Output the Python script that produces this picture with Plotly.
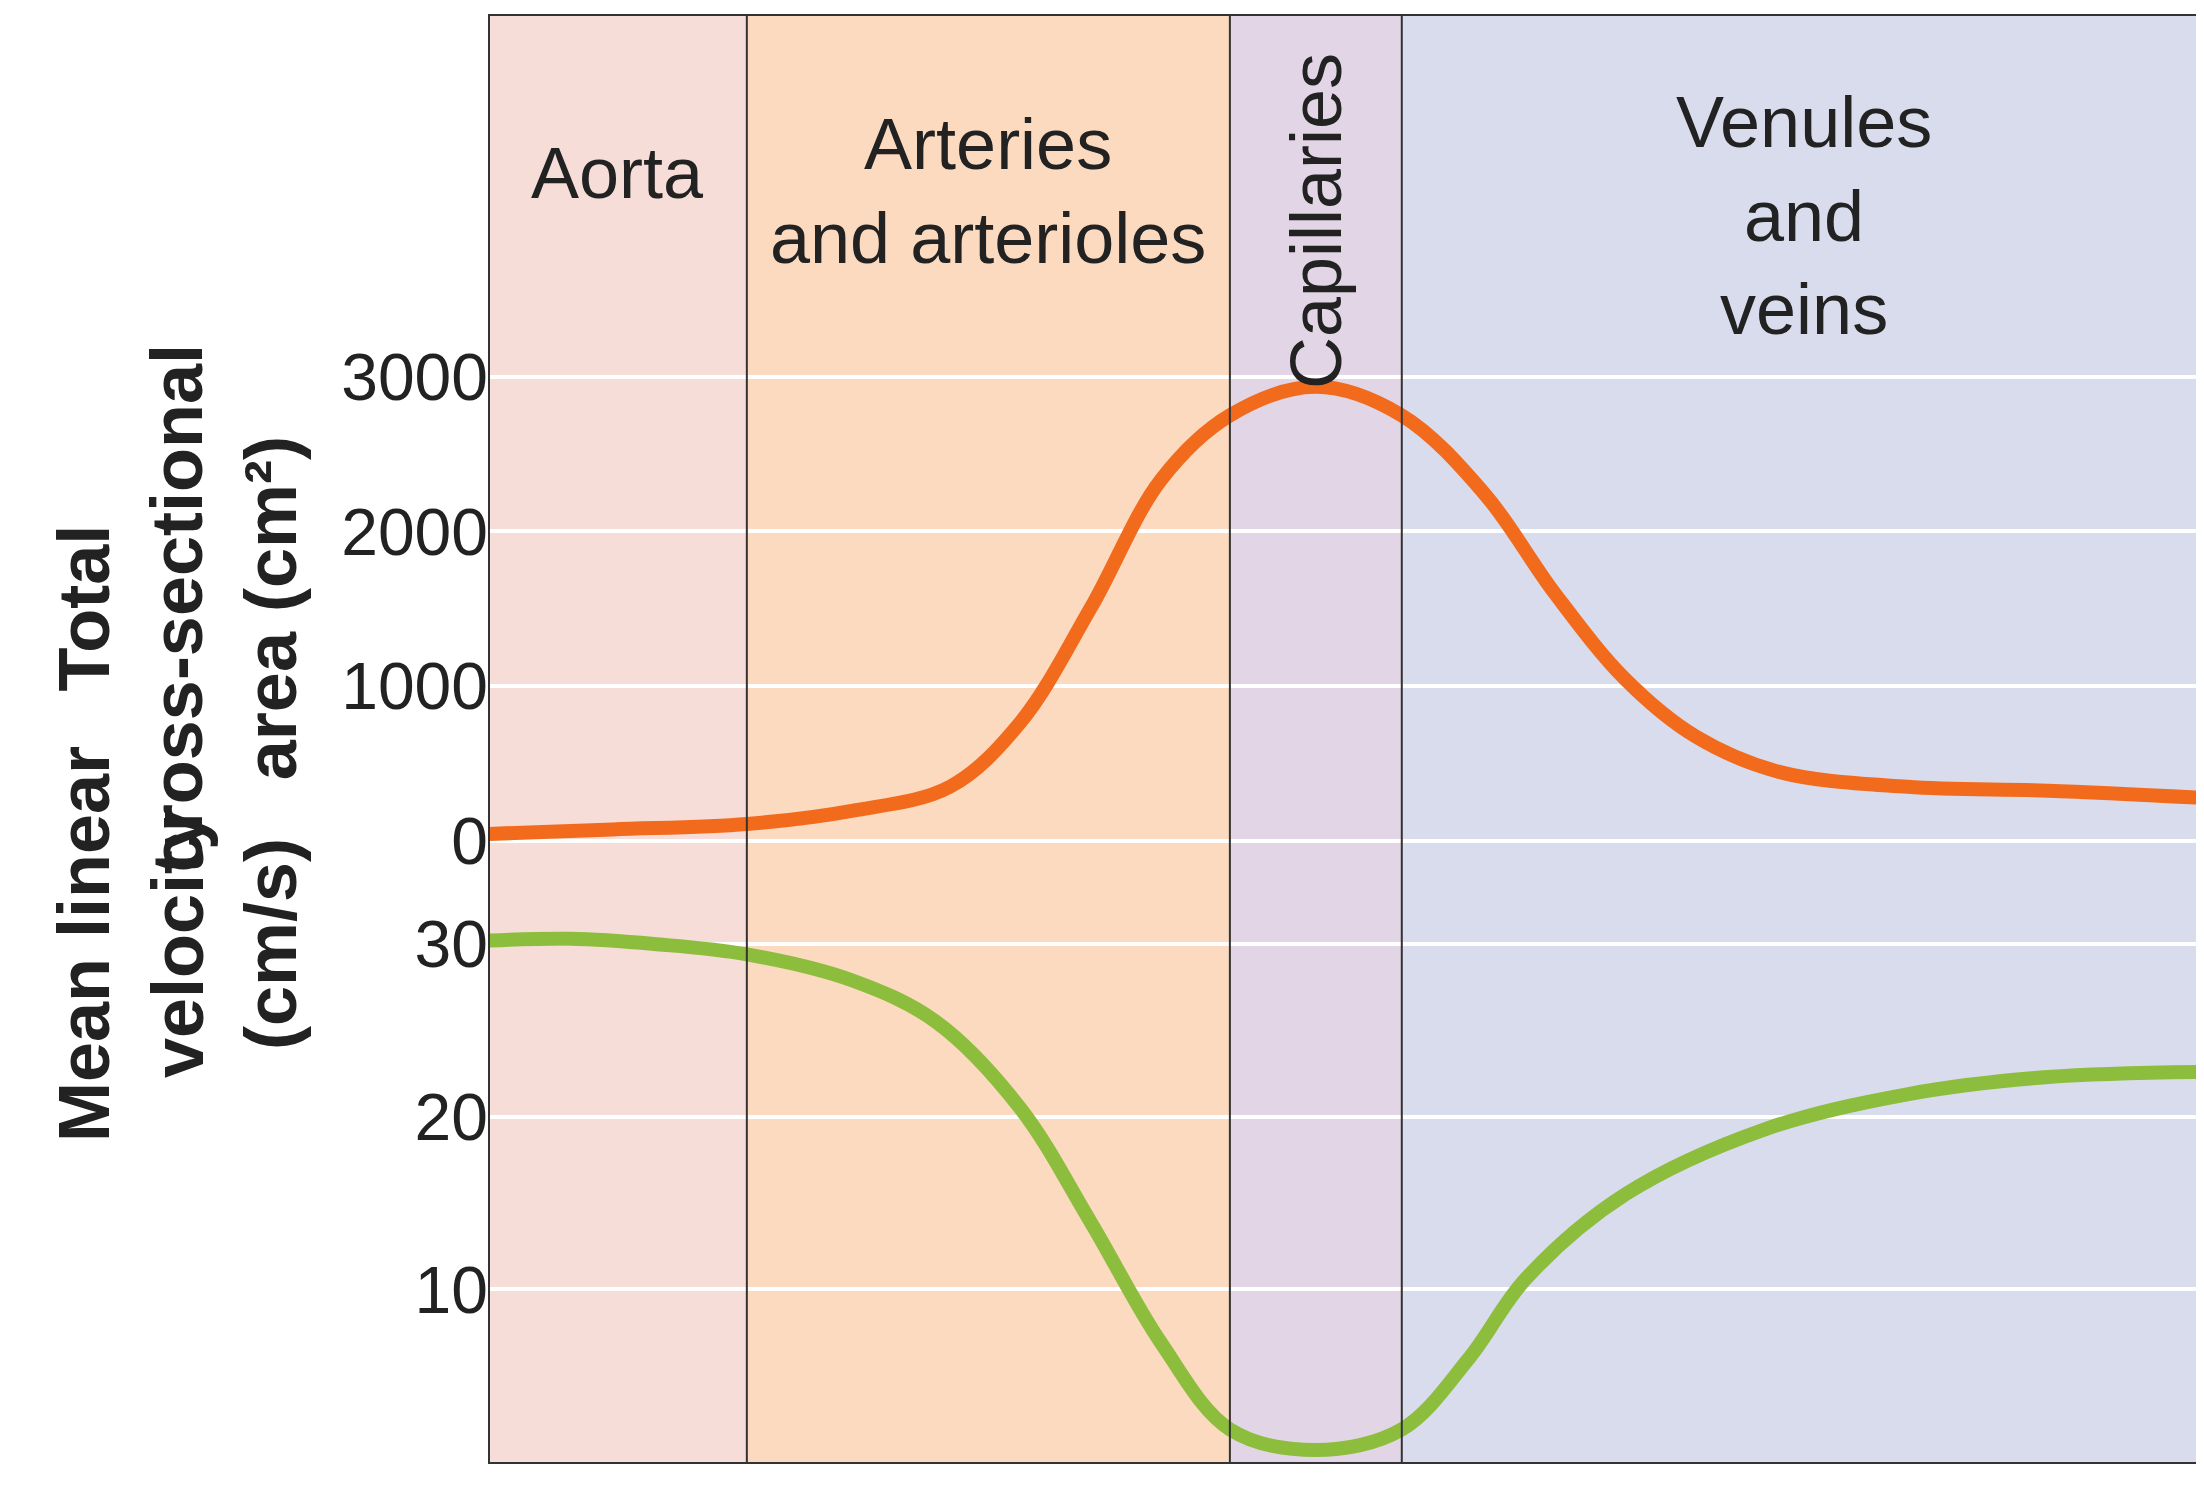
import plotly.graph_objects as go

# position along the circulation (0..100)
area_x = [0, 7.2, 15.0, 21.1, 26.8, 30.9, 35.0, 39.1, 43.1, 48.1, 53.1, 57.9, 62.0, 66.1, 70.2, 75.1, 82.5, 90.7, 100]
area_y = [46, 75, 110, 195, 350, 765, 1505, 2335, 2750, 2935, 2750, 2245, 1600, 1045, 675, 445, 350, 325, 277]

vel_x = [0, 4.7, 9.6, 15.0, 21.1, 26.0, 30.9, 35.0, 39.1, 43.1, 48.1, 53.1, 57.0, 60.3, 66.1, 74.3, 82.5, 90.7, 100]
vel_y = [30.2, 30.3, 30.0, 29.4, 27.9, 25.5, 20.5, 13.9, 6.9, 1.9, 0.7, 1.9, 6.0, 10.6, 15.5, 19.3, 21.3, 22.3, 22.6]

regions = ["Aorta", "Arteries<br>and arterioles", "Capillaries", "Venules<br>and<br>veins"]
bounds = [0, 15.0, 43.1, 53.1, 100]
colors = ["#f6ddd8", "#fcdabf", "#e2d6e6", "#d9dcec"]

FONT = "Liberation Sans, Arial, sans-serif"

fig = go.Figure()
fig.add_trace(go.Scatter(x=area_x, y=area_y, mode="lines", line=dict(color="#f26b1d", width=14, shape="spline"),
                         xaxis="x", yaxis="y2", showlegend=False))
fig.add_trace(go.Scatter(x=vel_x, y=vel_y, mode="lines", line=dict(color="#8dbd3d", width=14, shape="spline"),
                         xaxis="x", yaxis="y", showlegend=False))

shapes = []
for i in range(4):
    shapes.append(dict(type="rect", xref="x", yref="paper", x0=bounds[i], x1=bounds[i + 1], y0=0, y1=1,
                       fillcolor=colors[i], line_width=0, layer="below"))
for b in bounds[1:4]:
    shapes.append(dict(type="line", xref="x", yref="paper", x0=b, x1=b, y0=0, y1=1,
                       line=dict(color="#333", width=2)))
shapes.append(dict(type="rect", xref="paper", yref="paper", x0=0, x1=1, y0=0, y1=1,
                   line=dict(color="#333", width=2)))

annotations = [
    dict(x=7.5, y=0.92, xref="x", yref="paper", text=regions[0], showarrow=False),
    dict(x=29.0, y=0.94, xref="x", yref="paper", text=regions[1], showarrow=False),
    dict(x=48.1, y=0.975, xref="x", yref="paper", text=regions[2], textangle=-90, showarrow=False),
    dict(x=76.5, y=0.955, xref="x", yref="paper", text=regions[3], showarrow=False),
    dict(x=-0.26, y=0.59, xref="paper", yref="paper", text="<b>Total<br>cross-sectional<br>area (cm²)</b>",
         textangle=-90, showarrow=False),
    dict(x=-0.26, y=0.22, xref="paper", yref="paper", text="<b>Mean linear<br>velocity<br>(cm/s)</b>",
         textangle=-90, showarrow=False),
]
for a in annotations[:4]:
    a["font"] = dict(size=72, color="#222", family=FONT)
for a in annotations[4:]:
    a["font"] = dict(size=72, color="#222", family=FONT)

axis_common = dict(showgrid=True, gridcolor="white", gridwidth=4, zeroline=False, showline=False,
                   tickfont=dict(size=66, color="#222", family=FONT), ticks="", fixedrange=True)

fig.update_layout(
    width=2204, height=1486,
    margin=dict(l=481, r=4, t=7, b=31),
    paper_bgcolor="white", plot_bgcolor="rgba(0,0,0,0)",
    xaxis=dict(range=[0, 100], showgrid=False, showticklabels=False, zeroline=False, ticks=""),
    yaxis=dict(domain=[0, 0.393], range=[-0.05, 32.9], tickvals=[0, 10, 20, 30], **axis_common),
    yaxis2=dict(domain=[0.393, 1], range=[-342, 5337], tickvals=[0, 1000, 2000, 3000], **axis_common),
    shapes=shapes, annotations=annotations,
)

fig.write_html("out.html")
